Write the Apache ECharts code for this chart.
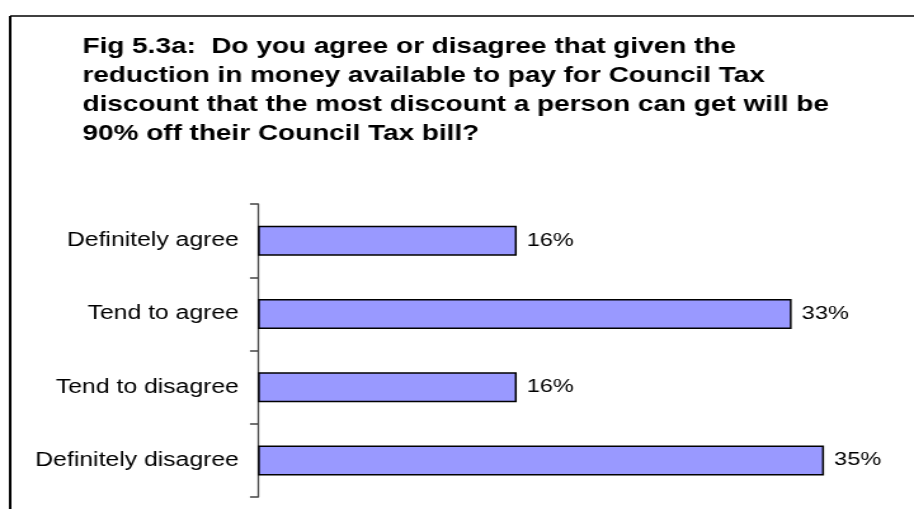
<!DOCTYPE html>
<html>
<head>
<meta charset="utf-8">
<script src="https://cdn.jsdelivr.net/npm/echarts@6/dist/echarts.min.js"></script>
<style>
  html, body { margin: 0; padding: 0; background: #fff; overflow: hidden; }
  /* The chart is laid out narrower and widened to the page, giving the broad lettering of the figure */
  #chart { width: 720px; height: 509px; transform: scaleX(1.26944); transform-origin: 0 0; }
</style>
</head>
<body>
<div id="chart"></div>
<script>
// Survey responses, top to bottom
const categories = ['Definitely agree', 'Tend to agree', 'Tend to disagree', 'Definitely disagree'];
const shares = [16, 33, 16, 35];

const titleLines = [
  'Fig 5.3a:  Do you agree or disagree that given the',
  'reduction in money available to pay for Council Tax',
  'discount that the most discount a person can get will be',
  '90% off their Council Tax bill?'
];

const FONT = 'Liberation Sans, Arial, sans-serif';
const chart = echarts.init(document.getElementById('chart'), null, { renderer: 'canvas' });

chart.setOption({
  animation: false,
  backgroundColor: '#ffffff',
  title: {
    text: titleLines.join('\n'),
    left: 60,
    top: 27,
    textStyle: {
      fontFamily: FONT,
      fontSize: 22,
      fontWeight: 'bold',
      color: '#000',
      lineHeight: 29
    }
  },
  graphic: [
    { type: 'line', shape: { x1: 8, y1: 16, x2: 720, y2: 16 }, style: { stroke: '#000', lineWidth: 1.5 } },
    { type: 'line', shape: { x1: 8, y1: 16, x2: 8, y2: 509 }, style: { stroke: '#000', lineWidth: 2 } }
  ],
  grid: { left: 203.2, top: 204, width: 509.6, height: 293, containLabel: false },
  xAxis: {
    type: 'value',
    min: 0,
    max: 40,
    show: false
  },
  yAxis: {
    type: 'category',
    data: categories,
    inverse: true,
    boundaryGap: true,
    axisLine: { show: true, lineStyle: { color: '#444', width: 1.3 } },
    axisTick: { show: true, length: 6.3, inside: false, lineStyle: { color: '#444', width: 1.5 } },
    axisLabel: {
      margin: 15,
      fontFamily: FONT,
      fontSize: 19.5,
      color: '#000'
    },
    splitLine: { show: false }
  },
  series: [{
    type: 'bar',
    data: shares,
    barWidth: 30,
    itemStyle: { color: '#9999FF', borderColor: '#000', borderWidth: 1.5 },
    label: {
      show: true,
      position: 'right',
      distance: 8,
      formatter: '{c}%',
      fontFamily: FONT,
      fontSize: 18.5,
      color: '#000'
    }
  }]
});
</script>
</body>
</html>
